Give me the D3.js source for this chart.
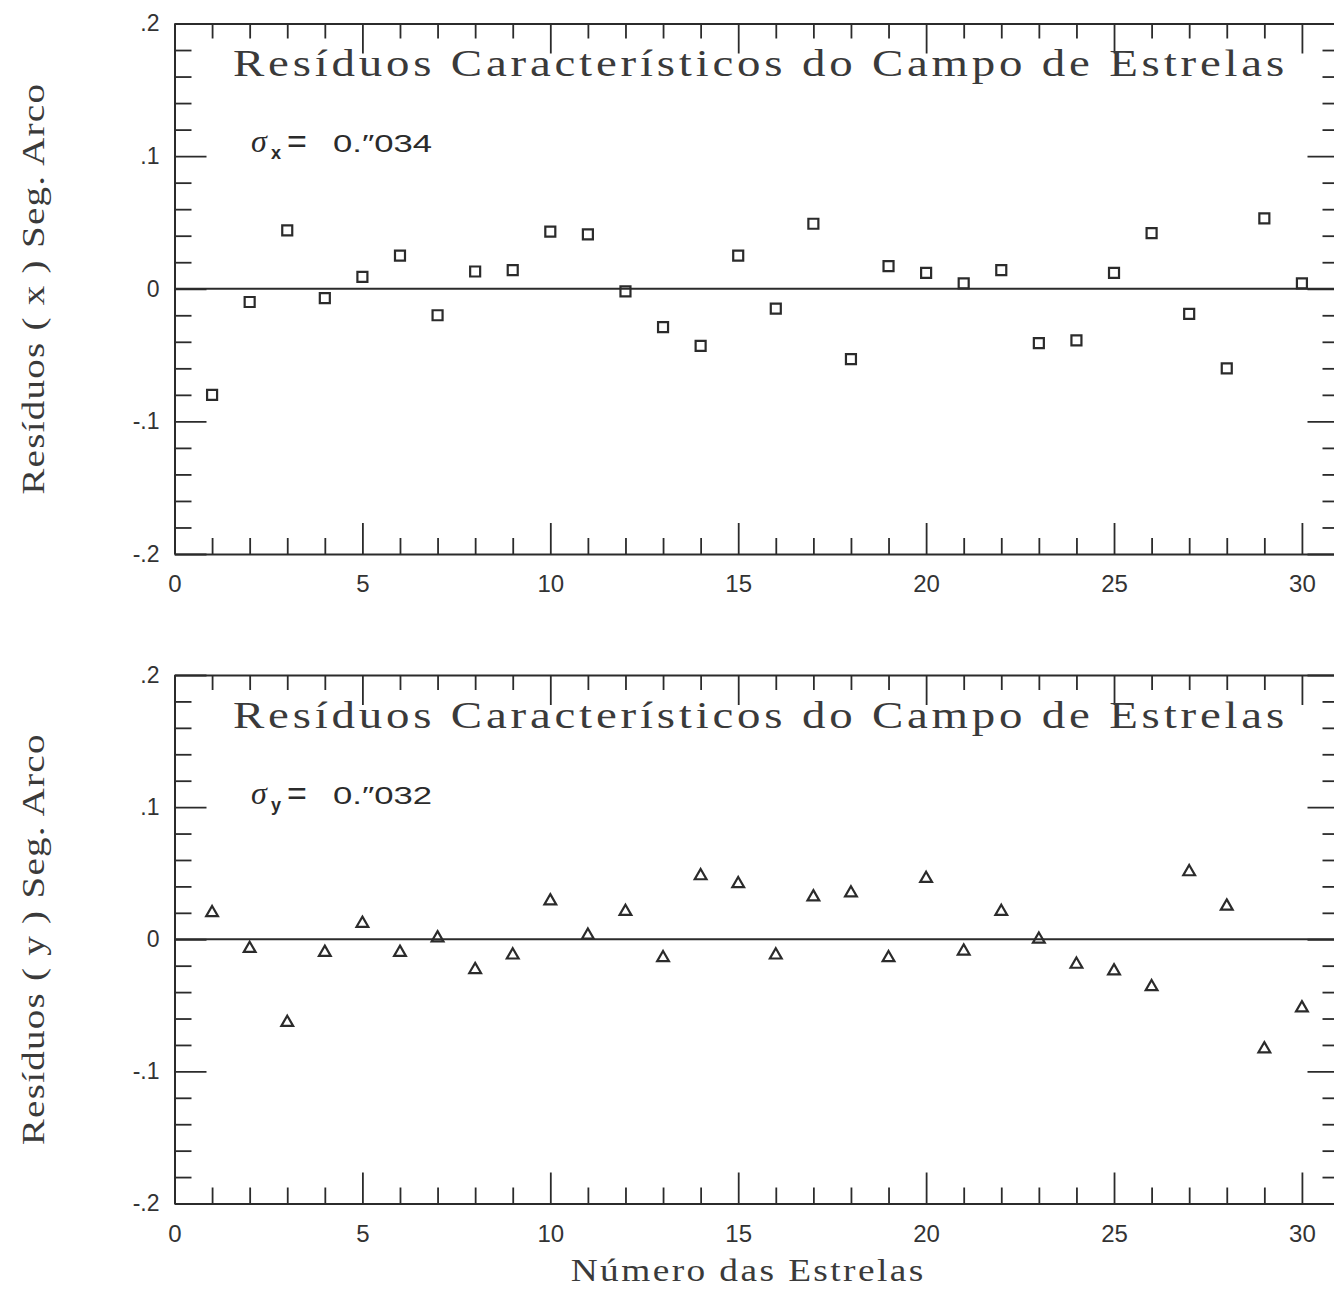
<!DOCTYPE html>
<html>
<head>
<meta charset="utf-8">
<script src="https://cdn.jsdelivr.net/npm/d3@7"></script>
<style>
  body { margin: 0; background: #fff; }
  svg { display: block; }
</style>
</head>
<body>
<script>
// star numbers (x axis)
const stars = [1, 2, 3, 4, 5, 6, 7, 8, 9, 10, 11, 12, 13, 14, 15,
               16, 17, 18, 19, 20, 21, 22, 23, 24, 25, 26, 27, 28, 29, 30];

// residuals in x (arc seconds), squares
const residX = [-0.080, -0.010, 0.044, -0.007, 0.009, 0.025, -0.020, 0.013, 0.014, 0.043,
                0.041, -0.002, -0.029, -0.043, 0.025, -0.015, 0.049, -0.053, 0.017, 0.012,
                0.004, 0.014, -0.041, -0.039, 0.012, 0.042, -0.019, -0.060, 0.053, 0.004];

// residuals in y (arc seconds), triangles
const residY = [0.020, -0.007, -0.063, -0.010, 0.012, -0.010, 0.001, -0.023, -0.012, 0.029,
                0.003, 0.021, -0.014, 0.048, 0.042, -0.012, 0.032, 0.035, -0.014, 0.046,
                -0.009, 0.021, 0.000, -0.019, -0.024, -0.036, 0.051, 0.025, -0.083, -0.052];

const xMajor = [0, 5, 10, 15, 20, 25, 30];
const xMinor = [1, 2, 3, 4, 6, 7, 8, 9, 11, 12, 13, 14, 16, 17, 18, 19, 21, 22, 23, 24, 26, 27, 28, 29];
const yMajor = [-0.2, -0.1, 0, 0.1, 0.2];
const yMinor = [-0.18, -0.16, -0.14, -0.12, -0.08, -0.06, -0.04, -0.02,
                0.02, 0.04, 0.06, 0.08, 0.12, 0.14, 0.16, 0.18];

const titleText = "Resíduos Característicos do Campo de Estrelas";

const panels = [
  { values: residX, sub: "x", sigma: "0.\u2033034", ylabel: "Resíduos ( x ) Seg. Arco",
    top: 23.5, bottom: 554, symbol: d3.symbolSquare, size: 100 },
  { values: residY, sub: "y", sigma: "0.\u2033032", ylabel: "Resíduos ( y ) Seg. Arco",
    top: 675, bottom: 1203.5, symbol: d3.symbolTriangle, size: 60 }
];

const W = 1334, H = 1294;
const ink = "#2b2b2b";
const serif = "'Liberation Serif', 'DejaVu Serif', serif";
const sans = "'Liberation Sans', Arial, sans-serif";

const svg = d3.select("body").append("svg")
    .attr("width", W)
    .attr("height", H)
    .style("background", "#fff");

const x = d3.scaleLinear().domain([0, 31]).range([174.5, 1339.5]);

function yFmt(d) {
  if (Math.abs(d) < 1e-9) return "0";
  return (d < 0 ? "-" : "") + "." + Math.round(Math.abs(d) * 10);
}

function styleAxis(g) {
  g.selectAll("path").attr("stroke", ink).attr("stroke-width", 2);
  g.selectAll("line").attr("stroke", ink).attr("stroke-width", 1.8);
  g.selectAll("text").attr("fill", "#333").attr("font-family", sans);
}

panels.forEach(function(p) {
  const y = d3.scaleLinear().domain([-0.2, 0.2]).range([p.bottom, p.top]);
  const g = svg.append("g");

  // bottom axis
  g.append("g")
    .attr("transform", "translate(0," + p.bottom + ")")
    .call(d3.axisBottom(x).tickValues(xMinor).tickSize(-16).tickSizeOuter(0).tickFormat(""))
    .call(styleAxis);
  g.append("g")
    .attr("transform", "translate(0," + p.bottom + ")")
    .call(d3.axisBottom(x).tickValues(xMajor).tickSize(-31).tickSizeOuter(0).tickPadding(21)
      .tickFormat(d3.format("d")))
    .call(styleAxis)
    .call(a => a.select(".domain").remove())
    .selectAll("text").attr("font-size", "24px");

  // top axis
  g.append("g")
    .attr("transform", "translate(0," + p.top + ")")
    .call(d3.axisTop(x).tickValues(xMinor).tickSize(-15).tickSizeOuter(0).tickFormat(""))
    .call(styleAxis);
  g.append("g")
    .attr("transform", "translate(0," + p.top + ")")
    .call(d3.axisTop(x).tickValues(xMajor).tickSize(-30).tickSizeOuter(0).tickFormat(""))
    .call(styleAxis)
    .call(a => a.select(".domain").remove());

  // left axis
  g.append("g")
    .attr("transform", "translate(" + x(0) + ",0)")
    .call(d3.axisLeft(y).tickValues(yMinor).tickSize(-17).tickSizeOuter(0).tickFormat(""))
    .call(styleAxis);
  g.append("g")
    .attr("transform", "translate(" + x(0) + ",0)")
    .call(d3.axisLeft(y).tickValues(yMajor).tickSize(-32).tickSizeOuter(0).tickPadding(15)
      .tickFormat(yFmt))
    .call(styleAxis)
    .call(a => a.select(".domain").remove())
    .selectAll("text").attr("font-size", "23px");

  // right axis (just outside the picture)
  g.append("g")
    .attr("transform", "translate(" + x(31) + ",0)")
    .call(d3.axisRight(y).tickValues(yMinor).tickSize(-17).tickSizeOuter(0).tickFormat(""))
    .call(styleAxis);
  g.append("g")
    .attr("transform", "translate(" + x(31) + ",0)")
    .call(d3.axisRight(y).tickValues(yMajor).tickSize(-32).tickSizeOuter(0).tickFormat(""))
    .call(styleAxis)
    .call(a => a.select(".domain").remove());

  // zero line
  g.append("line")
    .attr("x1", x(0)).attr("x2", x(31))
    .attr("y1", y(0)).attr("y2", y(0))
    .attr("stroke", ink).attr("stroke-width", 2);

  // points
  g.selectAll(".pt")
    .data(stars)
    .enter().append("path")
    .attr("class", "pt")
    .attr("transform", (d, i) => "translate(" + x(d) + "," + y(p.values[i]) + ")")
    .attr("d", d3.symbol().type(p.symbol).size(p.size))
    .attr("fill", "none")
    .attr("stroke", ink)
    .attr("stroke-width", 2.2);

  // title
  g.append("text")
    .attr("x", 233)
    .attr("y", p.top + 52.5)
    .attr("font-family", serif)
    .attr("font-size", "37px")
    .attr("letter-spacing", "3px")
    .attr("textLength", 1055)
    .attr("lengthAdjust", "spacingAndGlyphs")
    .attr("fill", "#3a3a3a")
    .text(titleText);

  // sigma
  const sy = p.top + 128.5;
  g.append("text")
    .attr("x", 251).attr("y", sy)
    .attr("font-family", serif)
    .attr("font-style", "italic")
    .attr("font-size", "32px")
    .attr("fill", ink)
    .text("σ");
  g.append("text")
    .attr("x", 271).attr("y", sy + 7)
    .attr("font-family", sans)
    .attr("font-weight", "bold")
    .attr("font-size", "18px")
    .attr("fill", ink)
    .text(p.sub);
  g.append("text")
    .attr("x", 287).attr("y", sy + 1)
    .attr("font-family", sans)
    .attr("font-size", "34px")
    .attr("fill", ink)
    .text("=");
  g.append("text")
    .attr("x", 333).attr("y", sy)
    .attr("font-family", sans)
    .attr("font-size", "24px")
    .attr("textLength", 99)
    .attr("lengthAdjust", "spacingAndGlyphs")
    .attr("fill", ink)
    .text(p.sigma);

  // y-axis label
  g.append("text")
    .attr("transform", "translate(44," + y(0) + ") rotate(-90)")
    .attr("text-anchor", "middle")
    .attr("font-family", serif)
    .attr("font-size", "32px")
    .attr("letter-spacing", "1px")
    .attr("textLength", 412)
    .attr("lengthAdjust", "spacingAndGlyphs")
    .attr("fill", "#3a3a3a")
    .text(p.ylabel);
});

// x-axis label
svg.append("text")
  .attr("x", x(15) + 10)
  .attr("y", 1281)
  .attr("text-anchor", "middle")
  .attr("font-family", serif)
  .attr("font-size", "31px")
  .attr("letter-spacing", "2px")
  .attr("textLength", 355)
  .attr("lengthAdjust", "spacingAndGlyphs")
  .attr("fill", "#3a3a3a")
  .text("Número das Estrelas");
</script>
</body>
</html>
